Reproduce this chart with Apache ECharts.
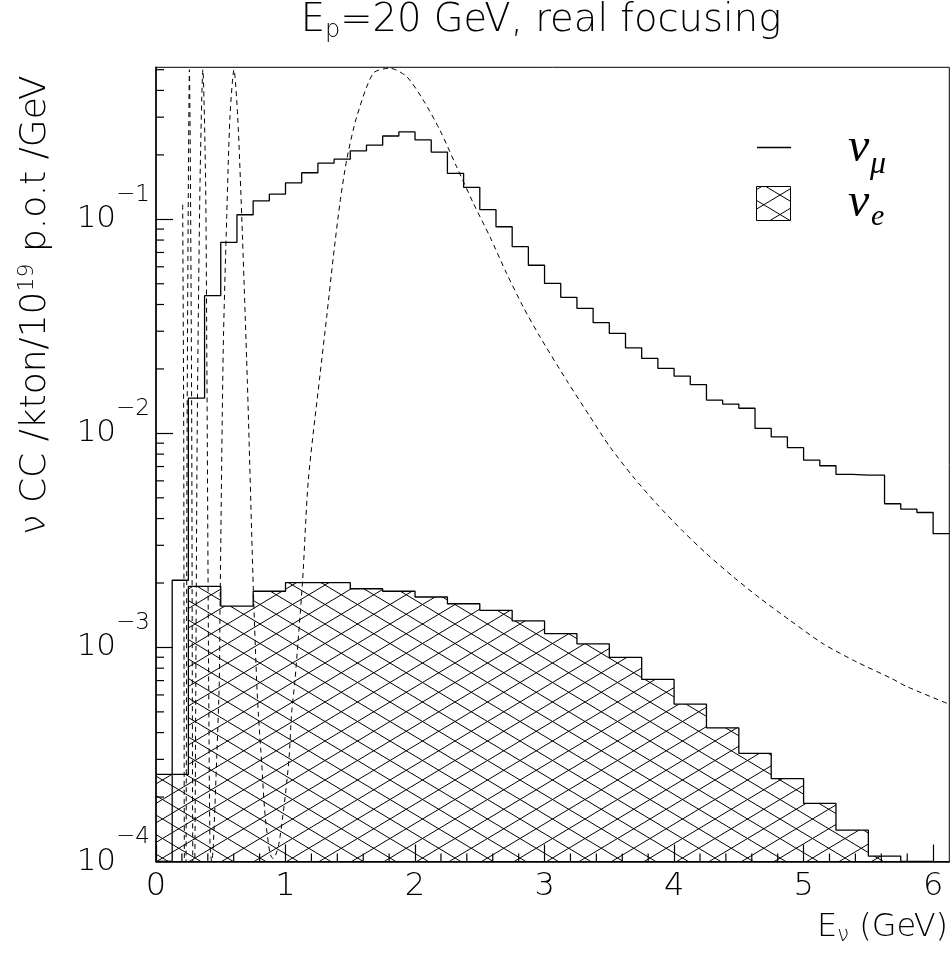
<!DOCTYPE html>
<html>
<head>
<meta charset="utf-8">
<script src="https://cdn.jsdelivr.net/npm/echarts@6/dist/echarts.min.js"></script>
<style>
  html, body { margin: 0; padding: 0; background: #fff; }
  #chart { width: 951px; height: 956px; }
</style>
</head>
<body>
<div id="chart"></div>
<script>
// Histogram binning (GeV)
const NUMU_BIN = 0.125;
const NUE_BIN = 0.25;
const X_MIN = 0, X_MAX = 6.125;
const Y_MIN = 1e-4, Y_MAX = 0.513;

// nu_mu CC events / kton / 1e19 p.o.t / GeV, 0.125 GeV bins from 0 (0 = off scale)
const numuRate = [
  0, 2.06e-3, 0.0146, 0.0440, 0.0781, 0.105, 0.122, 0.131,
  0.148, 0.165, 0.183, 0.191, 0.209, 0.222, 0.245, 0.256,
  0.235, 0.206, 0.164, 0.141, 0.111, 0.0923, 0.0745, 0.0610,
  0.0502, 0.0432, 0.0384, 0.0329, 0.0293, 0.0251, 0.0224, 0.0201,
  0.0185, 0.0169, 0.0143, 0.0137, 0.0131, 0.01055, 0.00964, 0.00857,
  0.0075, 0.00706, 0.00643, 0.00638, 0.00638, 0.00469, 0.00443, 0.00427,
  0.00340
];

// nu_e CC events, 0.25 GeV bins from 0 (0 = off scale)
const nueRate = [
  2.55e-4, 1.93e-3, 1.56e-3, 1.83e-3, 2.01e-3, 2.01e-3, 1.88e-3, 1.83e-3,
  1.72e-3, 1.60e-3, 1.49e-3, 1.33e-3, 1.16e-3, 1.04e-3, 8.98e-4, 7.09e-4,
  5.43e-4, 4.21e-4, 3.20e-4, 2.44e-4, 1.87e-4, 1.40e-4, 1.06e-4, 0
];

// Dashed reference curve: energies (GeV) and values
const curveE = [
  0.206, 0.214, 0.219, 0.226, 0.232, 0.240, 0.250, 0.258, 0.266, 0.276,
  0.284, 0.292, 0.300, 0.318, 0.340, 0.362, 0.383, 0.393, 0.405, 0.417,
  0.430, 0.442, 0.469, 0.489, 0.494, 0.519, 0.546, 0.571, 0.602, 0.631,
  0.662, 0.705, 0.751, 0.777, 0.790, 0.816, 0.841, 0.880, 0.905, 0.944,
  0.988, 1.026, 1.047, 1.073, 1.132, 1.176, 1.266, 1.318, 1.369, 1.420,
  1.472, 1.549, 1.677, 1.806, 1.935, 2.063, 2.192, 2.321, 2.450, 2.578,
  2.707, 2.835, 2.964, 3.170, 3.350, 3.504, 3.684, 3.865, 4.070, 4.251,
  4.456, 4.662, 4.894, 5.151, 5.409, 5.679, 5.795, 6.124
];
const curveV = [
  0.117, 0.01, 1e-4, 5e-5, 1e-4, 0.01, 0.15, 0.5, 0.15, 0.01,
  1e-4, 5e-5, 1e-4, 0.01, 0.15, 0.5, 0.15, 0.02, 1e-3, 1.2e-4,
  1.0e-4, 1.17e-4, 3.08e-4, 7.0e-4, 1.45e-3, 0.0245, 0.103, 0.30, 0.50, 0.30,
  0.103, 0.0177, 1.91e-3, 7.0e-4, 4.93e-4, 2.88e-4, 1.68e-4, 1.09e-4, 1.03e-4, 1.17e-4,
  1.80e-4, 2.97e-4, 4.93e-4, 7.03e-4, 2.06e-3, 6.05e-3, 0.0187, 0.0351, 0.0668, 0.119,
  0.189, 0.30, 0.481, 0.508, 0.464, 0.361, 0.261, 0.176, 0.119, 0.0829,
  0.0559, 0.0390, 0.0283, 0.0177, 0.0120, 8.66e-3, 6.27e-3, 4.69e-3, 3.48e-3, 2.74e-3,
  2.14e-3, 1.70e-3, 1.34e-3, 1.04e-3, 8.56e-4, 7.16e-4, 6.57e-4, 5.43e-4
];

// Axis graduations
const xMinorTicks = [0.2, 0.4, 0.6, 0.8, 1.2, 1.4, 1.6, 1.8, 2.2, 2.4, 2.6, 2.8,
  3.2, 3.4, 3.6, 3.8, 4.2, 4.4, 4.6, 4.8, 5.2, 5.4, 5.6, 5.8];
const mantissas = [2, 3, 4, 5, 6, 7, 8, 9];
const decades = [1e-4, 1e-3, 1e-2, 1e-1];
const yMinorTicks = [];
decades.forEach(d => mantissas.forEach(m => {
  const v = +(m * d).toPrecision(3);
  if (v < Y_MAX) yMinorTicks.push(v);
}));

const THIN = '"DejaVu Sans", Verdana, sans-serif';
const SERIF = '"Liberation Serif", "Times New Roman", serif';
const MINOR_LEN = 8;

// Cross-hatch tile: two families of diagonal lines forming 32.5 x 19.5 diamonds
function makeHatch() {
  const W = 65, H = 39, step = 19.5;
  const c = document.createElement('canvas');
  c.width = W; c.height = H;
  const g = c.getContext('2d');
  g.strokeStyle = '#000';
  g.lineWidth = 1;
  g.beginPath();
  for (let k = -4; k <= 4; k++) {
    g.moveTo(0, k * step); g.lineTo(W, k * step + H);
    g.moveTo(0, k * step); g.lineTo(W, k * step - H);
  }
  g.stroke();
  return c;
}
const hatch = { image: makeHatch(), repeat: 'repeat' };

function stepPoints(rates, width) {
  const pts = rates.map((v, i) => [i * width, Math.max(v, Y_MIN)]);
  pts.push([rates.length * width, Math.max(rates[rates.length - 1], Y_MIN)]);
  return pts;
}

const chart = echarts.init(document.getElementById('chart'), null, { renderer: 'canvas' });

const axisLineStyle = { color: '#000', width: 1.5 };
const tickStyle = { color: '#000', width: 1.2 };

// Titles and legend
const labelGraphics = [
  {
    type: 'text', x: 541, y: 21,
    style: {
      text: 'E{p|p}=20 GeV, real focusing',
      fontSize: 38.5, fontFamily: THIN, fontWeight: 200, fill: '#000', align: 'center', verticalAlign: 'middle',
      rich: { p: { fontSize: 24, lineHeight: 24, fontFamily: THIN, fontWeight: 200, fill: '#000', padding: [20, 0, 0, 0] } }
    }
  },
  {
    type: 'text', x: 36, y: 305, rotation: Math.PI / 2,
    style: {
      text: '\u03bd CC /kton/10{s|19} p.o.t /GeV',
      fontSize: 36, fontFamily: THIN, fontWeight: 200, fill: '#000', align: 'center', verticalAlign: 'middle',
      rich: { s: { fontSize: 22, lineHeight: 22, fontFamily: THIN, fontWeight: 200, fill: '#000', padding: [0, 0, 18, 0] } }
    }
  },
  {
    type: 'text', x: 948, y: 928,
    style: {
      text: 'E{s|\u03bd} (GeV)',
      fontSize: 32, fontFamily: THIN, fontWeight: 200, fill: '#000', align: 'right', verticalAlign: 'middle',
      rich: { s: { fontSize: 21, lineHeight: 21, fontFamily: THIN, fontWeight: 200, fill: '#000', padding: [16, 0, 0, 0] } }
    }
  },
  { type: 'line', shape: { x1: 757, y1: 147.5, x2: 791, y2: 147.5 }, style: { stroke: '#000', lineWidth: 1.3 } },
  { type: 'rect', shape: { x: 756.5, y: 186.5, width: 34, height: 34 }, style: { fill: hatch, stroke: '#000', lineWidth: 1 } },
  { type: 'text', x: 848, y: 148, style: { text: '\u03bd', font: 'italic 48px ' + SERIF, fill: '#000', align: 'left', verticalAlign: 'middle' } },
  { type: 'text', x: 870, y: 165, style: { text: '\u03bc', font: 'italic 32px ' + SERIF, fill: '#000', align: 'left', verticalAlign: 'middle' } },
  { type: 'text', x: 848, y: 203, style: { text: '\u03bd', font: 'italic 48px ' + SERIF, fill: '#000', align: 'left', verticalAlign: 'middle' } },
  { type: 'text', x: 871, y: 217, style: { text: 'e', font: 'italic 30px ' + SERIF, fill: '#000', align: 'left', verticalAlign: 'middle' } }
];

chart.setOption({
  animation: false,
  backgroundColor: '#fff',
  grid: {
    left: 156, right: 1.7, top: 67.3, bottom: 94.5,
    show: true, borderColor: '#000', borderWidth: 1,
    containLabel: false, outerBoundsMode: 'none'
  },
  xAxis: {
    type: 'value', min: X_MIN, max: X_MAX, interval: 1, position: 'bottom',
    axisLine: { show: true, onZero: false, lineStyle: axisLineStyle },
    axisTick: { show: true, inside: true, length: 17, lineStyle: tickStyle },
    axisLabel: {
      show: true, margin: 9, showMaxLabel: false,
      fontSize: 32, fontFamily: THIN, fontWeight: 200, color: '#000'
    },
    splitLine: { show: false }
  },
  yAxis: {
    type: 'log', logBase: 10, min: Y_MIN, max: Y_MAX, position: 'left',
    axisLine: { show: true, onZero: false, lineStyle: axisLineStyle },
    axisTick: { show: true, inside: true, length: 17, lineStyle: tickStyle },
    axisLabel: {
      show: true, margin: 6, showMaxLabel: false,
      formatter: v => '{b|10}{s|\u2212' + Math.round(-Math.log10(v)) + '}',
      rich: {
        b: { fontSize: 31, lineHeight: 40, fontFamily: THIN, fontWeight: 200, color: '#000' },
        s: { fontSize: 23, lineHeight: 20, fontFamily: THIN, fontWeight: 200, color: '#000', padding: [0, 0, 48, 0] }
      }
    },
    splitLine: { show: false }
  },
  series: [
    {
      name: 'nue', type: 'line', step: 'end', symbol: 'none', z: 2,
      data: stepPoints(nueRate, NUE_BIN),
      lineStyle: { color: '#000', width: 1.3 },
      areaStyle: { color: hatch, opacity: 1, origin: Y_MIN }
    },
    {
      name: 'numu', type: 'line', step: 'end', symbol: 'none', z: 3,
      data: stepPoints(numuRate, NUMU_BIN),
      lineStyle: { color: '#000', width: 1.3 }
    },
    {
      name: 'curve', type: 'line', symbol: 'none', smooth: 0.25, z: 4,
      data: curveE.map((e, i) => [e, curveV[i]]),
      lineStyle: { color: '#000', width: 1, type: [5, 4] }
    }
  ],
  graphic: { elements: labelGraphics }
});

// Minor ticks: positions taken from the laid-out axes
const toPx = p => chart.convertToPixel({ gridIndex: 0 }, p);
const tickLine = (a, b) => ({
  type: 'line', z: 10, silent: true,
  shape: { x1: a[0], y1: a[1], x2: b[0], y2: b[1] },
  style: { stroke: '#000', lineWidth: 1.2 }
});
const tickGraphics = [];
xMinorTicks.forEach(v => {
  const p = toPx([v, Y_MIN]);
  tickGraphics.push(tickLine(p, [p[0], p[1] - MINOR_LEN]));
});
yMinorTicks.forEach(v => {
  const p = toPx([X_MIN, v]);
  tickGraphics.push(tickLine(p, [p[0] + MINOR_LEN, p[1]]));
});
chart.setOption({ graphic: { elements: labelGraphics.concat(tickGraphics) } });
</script>
</body>
</html>
